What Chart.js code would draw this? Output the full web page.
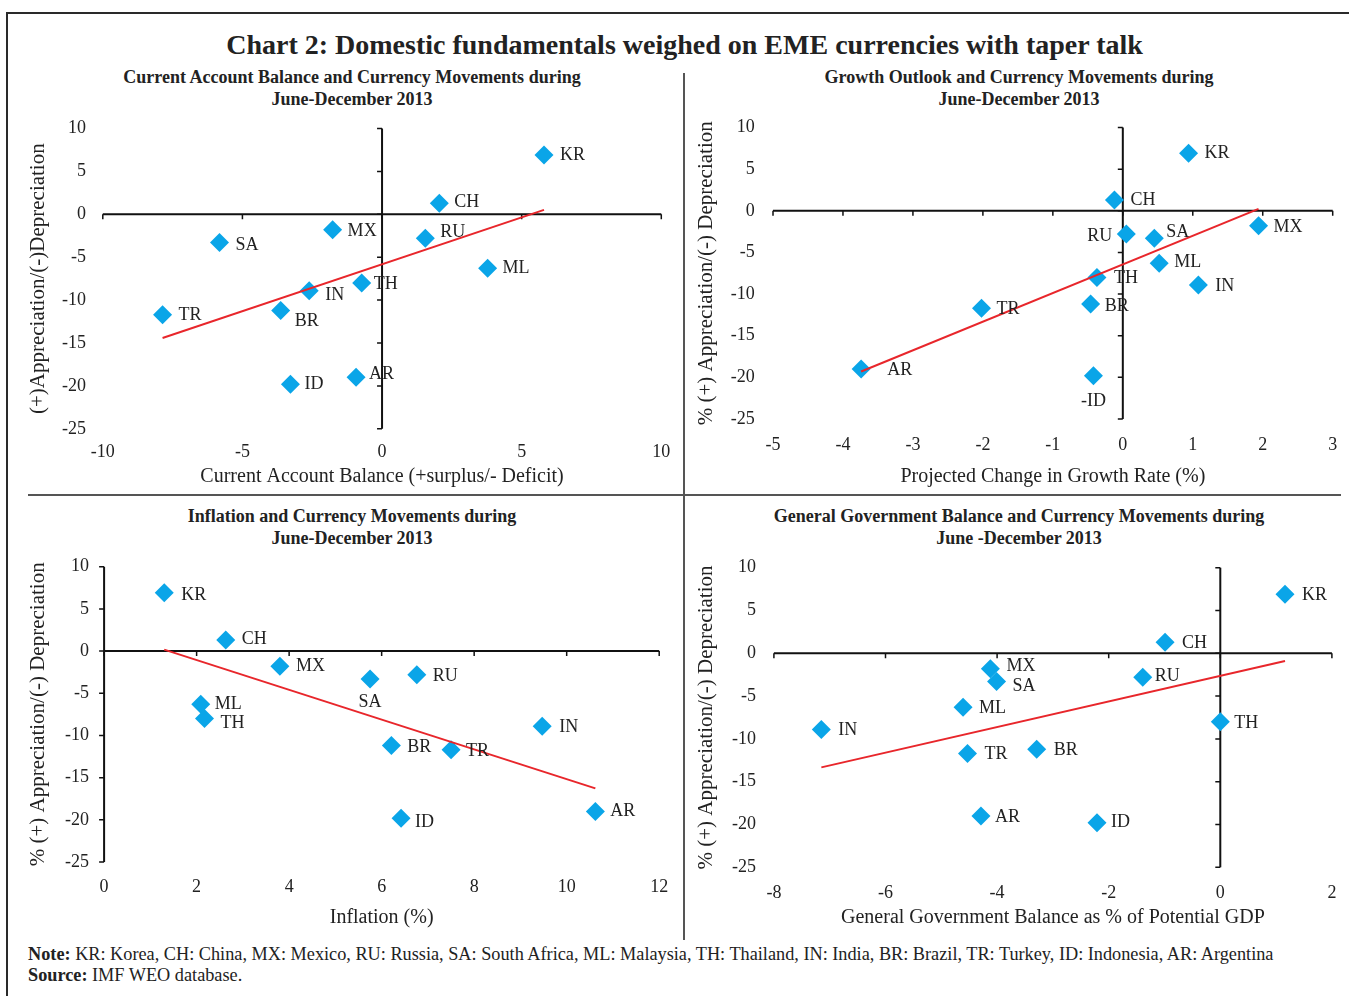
<!DOCTYPE html>
<html>
<head>
<meta charset="utf-8">
<title>Chart 2: Domestic fundamentals weighed on EME currencies with taper talk</title>
<script src="https://cdn.jsdelivr.net/npm/chart.js@4.4.1/dist/chart.umd.min.js"></script>
<style>
  body { margin: 0; background: #fff; }
  #page { position: relative; width: 1349px; height: 996px; overflow: hidden; background: #fff;
          font-family: 'Liberation Serif', serif; color: #222; }
  .rule { position: absolute; }
  canvas { position: absolute; }
  #title { position: absolute; left: 0; width: 1369px; top: 28px; line-height: 34px; text-align: center;
           font-size: 28px; font-weight: bold; }
  .sub { position: absolute; text-align: center; font-size: 18px; font-weight: bold; line-height: 22px; }
  #note { position: absolute; left: 28px; top: 944px; font-size: 18.25px; line-height: 21px; white-space: nowrap; }
</style>
</head>
<body>
<div id="page">
  <!-- cadre et séparateurs -->
  <div class="rule" style="left:6px;top:12px;width:1343px;height:2px;background:#2a2a2a"></div>
  <div class="rule" style="left:6px;top:12px;width:2px;height:984px;background:#2a2a2a"></div>
  <div class="rule" style="left:28px;top:494px;width:1313px;height:2px;background:#555"></div>
  <div class="rule" style="left:683px;top:73px;width:2px;height:867px;background:#555"></div>

  <div id="title">Chart 2: Domestic fundamentals weighed on EME currencies with taper talk</div>

  <div class="sub" style="left:28px;width:648px;top:66px">Current Account Balance and Currency Movements during<br>June-December 2013</div>
  <div class="sub" style="left:689px;width:660px;top:66px">Growth Outlook and Currency Movements during<br>June-December 2013</div>
  <div class="sub" style="left:28px;width:648px;top:505px">Inflation and Currency Movements during<br>June-December 2013</div>
  <div class="sub" style="left:689px;width:660px;top:505px">General Government Balance and Currency Movements during<br>June -December 2013</div>

  <canvas id="c1" width="656" height="384" style="left:20px;top:108px"></canvas>
  <canvas id="c2" width="658" height="384" style="left:690px;top:108px"></canvas>
  <canvas id="c3" width="656" height="390" style="left:20px;top:545px"></canvas>
  <canvas id="c4" width="658" height="390" style="left:690px;top:545px"></canvas>

  <div id="note"><b>Note:</b> KR: Korea, CH: China, MX: Mexico, RU: Russia, SA: South Africa, ML: Malaysia, TH: Thailand, IN: India, BR: Brazil, TR: Turkey, ID: Indonesia, AR: Argentina<br><b>Source:</b> IMF WEO database.</div>
</div>

<script>
// données
const countries      = ['KR', 'CH', 'MX', 'RU', 'SA', 'ML', 'TH', 'IN', 'BR', 'TR', 'ID', 'AR'];
const currencyChange = [6.9, 1.3, -1.8, -2.8, -3.3, -6.3, -8.0, -8.9, -11.2, -11.7, -19.8, -19.0];
const currentAccount = [5.8, 2.05, -1.77, 1.55, -5.82, 3.78, -0.73, -2.61, -3.63, -7.86, -3.28, -0.93];
const growthChange   = [0.94, -0.12, 1.94, 0.05, 0.45, 0.52, -0.37, 1.08, -0.46, -2.02, -0.42, -3.74];
const inflation      = [1.30, 2.63, 3.80, 6.76, 5.75, 2.09, 2.17, 9.47, 6.21, 7.50, 6.42, 10.62];
const govBalance     = [1.16, -0.99, -4.12, -1.39, -4.01, -4.61, 0.0, -7.15, -3.29, -4.53, -2.21, -4.29];
const yRange = [-25, 10, 5]; // min, max, pas

Chart.defaults.font.family = "'Liberation Serif', serif";
Chart.defaults.color = '#222';

// droite des moindres carrés, de x min à x max
function trend(xs, ys) {
  const n = xs.length;
  const mx = xs.reduce((a, b) => a + b, 0) / n;
  const my = ys.reduce((a, b) => a + b, 0) / n;
  let sxy = 0, sxx = 0;
  xs.forEach((x, i) => { sxy += (x - mx) * (ys[i] - my); sxx += (x - mx) * (x - mx); });
  const b = sxy / sxx, a = my - b * mx;
  const lo = Math.min(...xs), hi = Math.max(...xs);
  return [{x: lo, y: a + b * lo}, {x: hi, y: a + b * hi}];
}

// axes qui se croisent en zéro, avec petites graduations
const crossAxes = {
  id: 'crossAxes',
  beforeDatasetsDraw(chart) {
    const {ctx, chartArea: a, scales: {x, y}} = chart;
    const px = x.getPixelForValue(0), py = y.getPixelForValue(0);
    ctx.save();
    ctx.strokeStyle = '#111';
    ctx.lineWidth = 2;
    ctx.beginPath();
    ctx.moveTo(a.left, py); ctx.lineTo(a.right, py);
    ctx.moveTo(px, a.top); ctx.lineTo(px, a.bottom);
    ctx.stroke();
    ctx.lineWidth = 1.5;
    ctx.beginPath();
    x.ticks.forEach(t => { const p = x.getPixelForValue(t.value); ctx.moveTo(p, py); ctx.lineTo(p, py + 5); });
    y.ticks.forEach(t => { const p = y.getPixelForValue(t.value); ctx.moveTo(px - 5, p); ctx.lineTo(px, p); });
    ctx.stroke();
    ctx.restore();
  }
};

// étiquettes pays à côté des losanges
const pointLabels = {
  id: 'pointLabels',
  afterDatasetsDraw(chart, args, opts) {
    const {ctx} = chart;
    const meta = chart.getDatasetMeta(0);
    ctx.save();
    ctx.font = "18px 'Liberation Serif'";
    ctx.fillStyle = '#222';
    ctx.textBaseline = 'middle';
    meta.data.forEach((pt, i) => {
      const name = countries[i];
      const o = opts.offsets[name] || [15, 0];
      ctx.textAlign = o[2] || 'left';
      ctx.fillText(o[3] || name, pt.x + o[0], pt.y + o[1]);
    });
    ctx.restore();
  }
};

function makeChart(id, c) {
  const pts = c.xs.map((x, i) => ({x, y: currencyChange[i]}));
  return new Chart(document.getElementById(id), {
    type: 'scatter',
    data: {
      datasets: [
        { data: pts, pointStyle: 'rectRot', pointRadius: 9.5, pointHoverRadius: 9.5,
          backgroundColor: '#0aa5e8', borderWidth: 0, order: 1 },
        { data: trend(c.xs, currencyChange), showLine: true, borderColor: '#e8262b', borderWidth: 2,
          pointRadius: 0, order: 0 }
      ]
    },
    options: {
      responsive: false,
      animation: false,
      events: [],
      layout: { padding: {left: 0, top: c.top, right: c.right, bottom: 0} },
      plugins: {
        legend: {display: false},
        tooltip: {enabled: false},
        pointLabels: {offsets: c.labels}
      },
      scales: {
        x: {
          type: 'linear', min: c.xr[0], max: c.xr[1],
          ticks: {stepSize: c.xr[2], padding: c.xPad, font: {size: 18}, color: '#222'},
          grid: {display: false, drawTicks: false},
          border: {display: false},
          title: {display: true, text: c.xTitle, font: {size: 20}, color: '#222', padding: {top: 0, bottom: c.xTitlePad}},
          afterFit: s => { s.height = c.xH; s.paddingLeft = 0; s.paddingRight = 0; }
        },
        y: {
          type: 'linear', min: yRange[0], max: yRange[1],
          ticks: {stepSize: yRange[2], padding: c.yPad, font: {size: 18}, color: '#222'},
          grid: {display: false, drawTicks: false},
          border: {display: false},
          title: {display: true, text: c.yTitle, font: {size: 21}, color: '#222', padding: {top: c.yTitlePad, bottom: 0}},
          afterFit: s => { s.width = c.yW; s.paddingTop = 0; s.paddingBottom = 0; }
        }
      }
    },
    plugins: [crossAxes, pointLabels]
  });
}

makeChart('c1', {
  xs: currentAccount, xr: [-10, 10, 5],
  xTitle: 'Current Account Balance (+surplus/- Deficit)',
  yTitle: '(+)Appreciation/(-)Depreciation',
  top: 20.5, right: 14.7, yW: 82.8, xH: 63.2,
  yPad: 16.8, xPad: 12.9, yTitlePad: 5.4, xTitlePad: 3.3,
  labels: {KR: [16, 0], CH: [15, -1], MX: [15, 2], RU: [15, -6], SA: [16, 3], ML: [15, 0],
           TH: [12, 1], IN: [16, 5], TR: [16, 1], BR: [14, 11], ID: [14, 0], AR: [13, -3]}
});

makeChart('c2', {
  xs: growthChange, xr: [-5, 3, 1],
  xTitle: 'Projected Change in Growth Rate (%)',
  yTitle: '% (+) Appreciation/(-) Depreciation',
  top: 19.5, right: 15.3, yW: 83, xH: 73,
  yPad: 18.3, xPad: 15.9, yTitlePad: 3.9, xTitlePad: 3.3,
  labels: {KR: [16, 0], CH: [16, 0], MX: [15, 1], RU: [-14, 2, 'right'], SA: [12, -6], ML: [15, -1],
           TH: [17, 1], IN: [17, 1], BR: [14, 2], TR: [15, 1], ID: [0, 26, 'center', '-ID'], AR: [26, 1]}
});

makeChart('c3', {
  xs: inflation, xr: [0, 12, 2],
  xTitle: 'Inflation (%)',
  yTitle: '% (+) Appreciation/(-) Depreciation',
  top: 21.7, right: 16.8, yW: 84.1, xH: 73,
  yPad: 15.2, xPad: 14.5, yTitlePad: 5.6, xTitlePad: 5.3,
  labels: {KR: [17, 2], CH: [16, -1], MX: [16, 0], RU: [16, 2], SA: [0, 23, 'center'], ML: [14, 0],
           TH: [16, 5], IN: [17, 1], BR: [16, 2], TR: [15, 1], ID: [14, 4], AR: [15, 0]}
});

makeChart('c4', {
  xs: govBalance, xr: [-8, 2, 2],
  xTitle: 'General Government Balance as % of Potential GDP',
  yTitle: '% (+) Appreciation/(-) Depreciation',
  top: 22.7, right: 16.1, yW: 83.9, xH: 67.7,
  yPad: 18, xPad: 15.2, yTitlePad: 3.9, xTitlePad: 5.3,
  labels: {KR: [17, 1], CH: [17, 1], MX: [16, -2], RU: [12, -1], SA: [16, 5], ML: [16, 1],
           TH: [14, 1], IN: [17, 1], BR: [17, 1], TR: [17, 1], ID: [14, -1], AR: [14, 1]}
});
</script>
</body>
</html>
